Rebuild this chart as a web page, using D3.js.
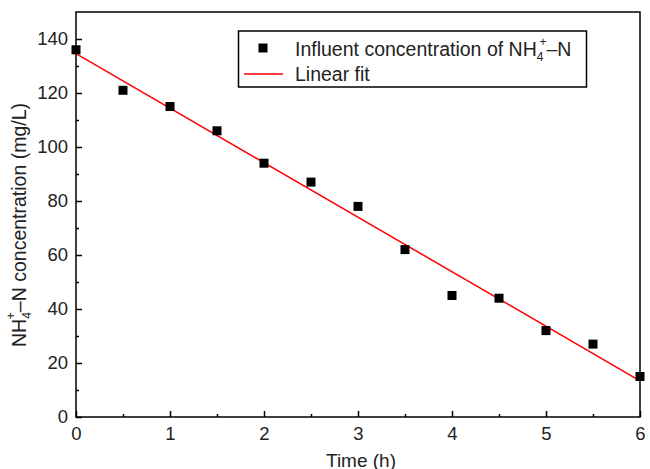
<!DOCTYPE html>
<html><head><meta charset="utf-8">
<script src="https://cdn.jsdelivr.net/npm/d3@7"></script>
<style>body{margin:0;background:#fff}svg{display:block}text{font-family:"Liberation Sans",Arial,sans-serif;fill:#222}</style>
</head><body>
<svg id="c" width="650" height="469"></svg>
<script>
const timeH = [0,0.5,1,1.5,2,2.5,3,3.5,4,4.5,5,5.5,6];
const nh4 = [136,121,115,106,94,87,78,62,45,44,32,27,15];
const fitX = [0,6];
const fitY = [134.6,13.4];
const xTicks = [0,1,2,3,4,5,6];
const yTicks = [0,20,40,60,80,100,120,140];

const svg = d3.select("#c");
const L=76,R=640,T=12,B=417;
const x = d3.scaleLinear().domain([0,6]).range([L,R]);
const y = d3.scaleLinear().domain([0,150]).range([B,T]);
const FONT = "Liberation Sans, Arial, sans-serif";

// minor ticks
const xMinor = d3.range(0.5,6,1);
const yMinor = d3.range(10,150,20);
svg.append("g").attr("transform",`translate(0,${B})`)
  .call(d3.axisBottom(x).tickValues(xMinor).tickSizeInner(-3).tickSizeOuter(0).tickFormat(""))
  .call(g=>g.select(".domain").remove()).selectAll("line").attr("stroke","#000").attr("stroke-width",1.5);
svg.append("g").attr("transform",`translate(${L},0)`)
  .call(d3.axisLeft(y).tickValues(yMinor).tickSizeInner(-3).tickSizeOuter(0).tickFormat(""))
  .call(g=>g.select(".domain").remove()).selectAll("line").attr("stroke","#000").attr("stroke-width",1.5);

const xa = svg.append("g").attr("transform",`translate(0,${B})`)
  .call(d3.axisBottom(x).tickValues(xTicks).tickSizeInner(-6).tickSizeOuter(0).tickPadding(10).tickFormat(d3.format("d")));
xa.select(".domain").remove();
xa.selectAll("line").attr("stroke","#000").attr("stroke-width",1.5);
xa.selectAll("text").attr("font-size",18.5).attr("fill","#222").style("font-family",FONT);

const ya = svg.append("g").attr("transform",`translate(${L},0)`)
  .call(d3.axisLeft(y).tickValues(yTicks).tickSizeInner(-6).tickSizeOuter(0).tickPadding(8).tickFormat(d3.format("d")));
ya.select(".domain").remove();
ya.selectAll("line").attr("stroke","#000").attr("stroke-width",1.5);
ya.selectAll("text").attr("font-size",18.5).attr("fill","#222").style("font-family",FONT);

// frame
svg.append("rect").attr("x",L).attr("y",T).attr("width",R-L).attr("height",B-T)
  .attr("fill","none").attr("stroke","#000").attr("stroke-width",1.5);

// fit line
svg.append("path").datum(fitX.map((v,i)=>[v,fitY[i]]))
  .attr("d",d3.line().x(d=>x(d[0])).y(d=>y(d[1])))
  .attr("stroke","#f00").attr("stroke-width",1.5).attr("fill","none");

// points
const s=9;
svg.append("g").selectAll("rect").data(timeH.map((t,i)=>[t,nh4[i]])).join("rect")
  .attr("x",d=>x(d[0])-s/2).attr("y",d=>y(d[1])-s/2).attr("width",s).attr("height",s).attr("fill","#000");

// legend
const lg = svg.append("g");
lg.append("rect").attr("x",238.5).attr("y",31).attr("width",348).attr("height",56)
  .attr("fill","#fff").attr("stroke","#000").attr("stroke-width",1.5);
lg.append("rect").attr("x",263-4.5).attr("y",48-4.5).attr("width",9).attr("height",9).attr("fill","#000");
lg.append("line").attr("x1",244).attr("x2",283).attr("y1",74).attr("y2",74).attr("stroke","#f00").attr("stroke-width",1.5);
const t1 = lg.append("text").attr("x",295).attr("y",56).attr("font-size",19.5);
t1.append("tspan").text("Influent concentration of NH");
t1.append("tspan").attr("font-size",12).attr("dy",5).text("4");
t1.append("tspan").attr("font-size",12).attr("dx",-4).attr("dy",-15).text("+");
t1.append("tspan").attr("dy",10).text("–N");
lg.append("text").attr("x",295).attr("y",80.5).attr("font-size",19.5).text("Linear fit");

// axis titles
svg.append("text").attr("x",361).attr("y",466.5).attr("text-anchor","middle").attr("font-size",19).text("Time (h)");
const yt = svg.append("text").attr("transform",`translate(26,225) rotate(-90)`).attr("text-anchor","middle").attr("font-size",19.5);
yt.append("tspan").text("NH");
yt.append("tspan").attr("font-size",12).attr("dy",5).text("4");
yt.append("tspan").attr("font-size",12).attr("dx",-7).attr("dy",-16).text("+");
yt.append("tspan").attr("dy",11).text("–N concentration (mg/L)");
</script>
</body></html>
